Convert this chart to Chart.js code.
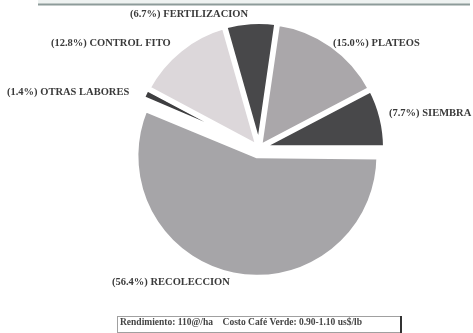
<!DOCTYPE html>
<html>
<head>
<meta charset="utf-8">
<script src="https://cdn.jsdelivr.net/npm/chart.js@4"></script>
<style>
    body { margin: 0; background: #fff; }
</style>
</head>
<body>
<canvas id="myChart" width="473" height="333"></canvas>
<script>
const labores = ['RECOLECCION', 'OTRAS LABORES', 'CONTROL FITO', 'FERTILIZACION', 'PLATEOS', 'SIEMBRA'];
const porcentajes = [56.4, 1.4, 12.8, 6.7, 15.0, 7.7];
const colores = ['#a6a5a8', '#3e3e40', '#dcd7da', '#48484a', '#aaa7aa', '#48484a'];
const nota = 'Rendimiento: 110@/ha    Costo Café Verde: 0.90-1.10 us$/lb';

// where each slice label sits (left edge, middle of text)
const labelPos = [[112, 282], [7, 92], [51, 43], [130, 14], [333, 43], [389, 113]];

const ctx = document.getElementById('myChart');

// the exploded slice gets its offset added to the radius by Chart.js,
// so pull it back in right before the arcs are drawn
const bigSlice = {
    id: 'bigSlice',
    beforeDatasetsDraw(chart) {
        const arc = chart.getDatasetMeta(0).data[0];
        if (arc) arc.outerRadius = 113.5;
    }
};

const extras = {
    id: 'extras',
    beforeDraw(chart) {
        const c = chart.ctx;
        c.save();
        // strip left from the box above
        c.fillStyle = '#eef2f1';
        c.fillRect(38, 0, 432, 4);
        c.fillStyle = '#8d9b9a';
        c.fillRect(38, 3.5, 432, 2);
        c.restore();
    },
    afterDraw(chart) {
        const c = chart.ctx;
        c.save();
        c.fillStyle = '#3a3a3a';
        c.font = 'bold 10.5px "Liberation Serif"';
        c.textBaseline = 'middle';
        labores.forEach((name, i) => {
            const [x, y] = labelPos[i];
            c.fillText('(' + porcentajes[i].toFixed(1) + '%) ' + name, x, y);
        });

        // yield / price box
        c.font = 'bold 9.5px "Liberation Serif"';
        c.fillStyle = '#444';
        c.fillText(nota, 120, 323);
        c.strokeStyle = '#a0a0a0';
        c.lineWidth = 1;
        c.strokeRect(117.5, 316.5, 284, 16);
        c.fillStyle = '#333';
        c.fillRect(400, 316, 2, 17);
        c.restore();
    }
};

const myPie = new Chart(ctx, {
    type: 'pie',
    data: {
        labels: labores,
        datasets: [{
            data: porcentajes,
            backgroundColor: colores,
            borderColor: '#ffffff',
            borderWidth: 5,
            offset: [32, 4, 4, 4, 4, 4]
        }]
    },
    options: {
        responsive: false,
        animation: false,
        rotation: 90,
        radius: 125,
        layout: {
            padding: { left: 45, right: 0, top: 0, bottom: 37 }
        },
        plugins: {
            legend: { display: false },
            tooltip: { enabled: false }
        }
    },
    plugins: [bigSlice, extras]
});
</script>
</body>
</html>
